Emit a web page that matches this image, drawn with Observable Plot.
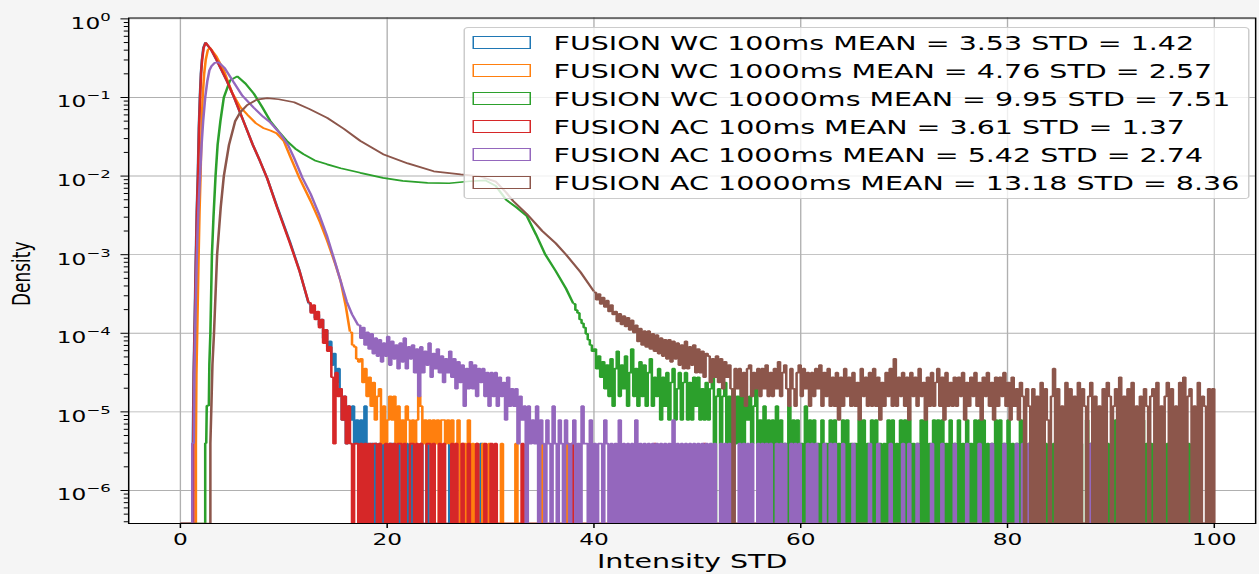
<!DOCTYPE html>
<html>
<head>
<meta charset="utf-8">
<script src="https://cdn.jsdelivr.net/npm/d3@7"></script>
<script src="https://cdn.jsdelivr.net/npm/@observablehq/plot@0.6"></script>
<style>
html,body{margin:0;padding:0;background:#f5f5f5;overflow:hidden;}
#wrap{position:relative;width:839px;height:574px;transform:scaleX(1.5);transform-origin:0 0;font-family:"DejaVu Sans",sans-serif;}
#legend{position:absolute;left:308.5px;top:27px;width:524px;height:172px;box-sizing:border-box;border:1px solid #cccccc;border-radius:3px;background:rgba(255,255,255,0.8);}
.row{position:absolute;left:5.5px;height:28px;display:flex;align-items:center;white-space:nowrap;font-size:19px;color:#000;font-family:"DejaVu Sans",sans-serif;}
.sw{display:inline-block;width:39px;height:13px;box-sizing:border-box;border:1.3px solid;margin-right:15px;}
</style>
</head>
<body>
<div id="wrap"><div id="chart"></div><div id="legend"></div></div>
<script>
// ---------------- data ----------------
const seriesNames = ["FUSION WC 100ms","FUSION WC 1000ms","FUSION WC 10000ms","FUSION AC 100ms","FUSION AC 1000ms","FUSION AC 10000ms"];
const seriesMeans = [3.53, 4.76, 9.95, 3.61, 5.42, 13.18];
const seriesStds  = [1.42, 2.57, 7.51, 1.37, 2.74, 8.36];
const seriesColors = ["#1f77b4","#ff7f0e","#2ca02c","#d62728","#9467bd","#8c564b"];

const xTicks = [0, 20, 40, 60, 80, 100];
const yTicks = [1e-6, 1e-5, 1e-4, 1e-3, 1e-2, 1e-1, 1];

const BIN = 0.2;        // width of a histogram bin in the sparse tails
const UNIT = 3.94e-6;   // density of a single count

// smooth body of each histogram (x, density)
const wc100X = [1.2,1.28,1.38,1.48,1.58,1.68,1.78,1.88,1.98,2.08,2.22,2.42,3.0,3.5,4.0,4.5,5.2,6.1,7.0,7.7,8.4,9.35,10.6,11.5,12.4];
const wc100D = [4e-6,3e-5,1.5e-4,8e-4,3.5e-3,0.01,0.04,0.1,0.2,0.3,0.43,0.5,0.4,0.3,0.22,0.162,0.1,0.05,0.025,0.0155,0.0093,0.0041,0.00145,6.4e-4,2.4e-4];
const wc100TailStart = 12.4;
const wc100Tail = [60,48,54,40,44, 32,38,22,28,17, 20,10,14,6,9, 5,2,4,1,3, 2,3,1,2,1, 2,1,3,1,0, 1,0,1,0,1, 0,1,0,0,1, 1,0,0,1,0, 0,0,1,0,0, 1,0,0,0,1, 0,0,1,0,0];
const wc100Sparse = [26.0, 29.0];

const wc1000X = [1.5,1.55,1.65,1.75,1.85,1.95,2.05,2.15,2.3,2.45,2.65,2.85,3.5,4.2,5.0,5.8,6.5,7.3,8.0,8.7,9.3,10.0,10.6,11.5,12.6,13.5,14.2,15.0,15.5,16.0,16.4];
const wc1000D = [4e-6,3e-5,1.5e-4,8e-4,3.5e-3,0.01,0.04,0.1,0.2,0.3,0.4,0.43,0.33,0.22,0.115,0.075,0.06,0.047,0.041,0.038,0.035,0.028,0.018,0.0095,0.0048,0.0026,0.0015,7.5e-4,4.6e-4,2.2e-4,1.05e-4];
const wc1000TailStart = 16.4;
const wc1000Tail = [26,18,17,12,11, 12,6,9,4,7, 3,6,2,4,5, 1,3,1,2,4, 2,4,1,3,1, 2,1,3,2,1, 2,1,2,4,3, 1,2,1,2,1, 2,1,2,0,2, 2,1,2,1,2, 0,1,2,0,1, 1,0,2,0,1, 0,1,0,0,1, 0,0,1,0,0, 0,0,0,1,0];
const wc1000Sparse = [32.4, 34.8, 37.4, 53.4, 56.0];

const wc10000X = [2.4,2.5,2.55,2.75,2.8,2.9,3.05,3.2,3.4,3.6,3.87,4.2,4.8,5.5,6.3,7.1,7.9,8.7,9.5,10.3,11.1,11.9,13.0,14.2,15.5,17.4,19.6,21.5,23.9,26.0,28.0,29.5,30.5,31.5,32.5,33.5,34.4,35.3,36.3,37.3,38.0];
const wc10000D = [4e-6,4e-6,1.2e-5,1.2e-5,4e-5,1e-4,1e-3,3e-3,0.01,0.025,0.05,0.1,0.165,0.186,0.15,0.112,0.076,0.05,0.037,0.028,0.0224,0.019,0.0158,0.0141,0.0126,0.011,0.0095,0.0087,0.0082,0.0081,0.0086,0.0088,0.0075,0.005,0.004,0.0031,0.0018,0.001,6.2e-4,3.7e-4,2.4e-4];
const wc10000TailStart = 38.0;
const wc10000Tail = [
  60,50,46,38,34, 30,25,21,18,15, 16,9,13,7,11, 5,10,4,12,3, 9,15,4,10,5,
  13,3,8,16,4, 9,3,11,4,10, 3,8,12,3,7, 4,9,2,7,3, 8,2,6,9,2,
  5,8,2,6,8, 2,6,2,7,3, 7,2,5,2,6, 2,5,7,0,4, 5,1,4,6,1,
  4,1,5,1,4, 1,5,1,4,2, 4,1,3,5,1, 2,0,3,0,2, 0,2,0,3,0,
  2,0,1,0,3, 0,2,0,2,0, 1,0,3,0,2, 0,2,0,1,0, 2,0,1,0,2,
  0,2,0,1,0, 2,0,2,0,1, 0,1,0,2,0, 2,0,1,0,2, 0,2,0,1,0,
  1,0,2,0,2, 0,1,0,2,0, 2,0,2,0,1, 0,1,0,2,0, 2,0,1,0,2,
  0,2,0,2,0, 1,0,2,0,1, 0,2,0,1,0, 2,0,1,0,2, 0,2,0,2,0,
  1,0,1,0,2, 0,2,0,1,0, 2,0,1,0,1, 0,2,0,1,0, 1,0,1,0,1,
  0,2,0,1,0, 1,0,1,0,0, 1,0,2,0,1, 0,1,0,1,0, 1,0,0,2,0,
  1,0,1,0,1, 0,1,0,1,0, 1,0,2,0,1, 0,1,0,0,1, 0,1,0,1,0,
  2,0,1,0,1, 0,1,0,1,0, 1,0,1,0,1, 0,1,0,1,0, 1,0,1,0,1,
  0,1,0,0,0];
const wc10000Sparse = [];

const ac100X = [1.25,1.3,1.4,1.5,1.6,1.7,1.8,1.9,2.0,2.1,2.25,2.45,3.0,3.5,4.0,4.5,5.2,6.1,7.0,7.7,8.4,9.35,10.6,11.5,12.4];
const ac100D = [4e-6,3e-5,1.5e-4,8e-4,3.5e-3,0.01,0.04,0.1,0.2,0.3,0.43,0.5,0.4,0.3,0.22,0.162,0.1,0.05,0.025,0.0155,0.0093,0.004,0.0014,6.3e-4,2.45e-4];
const ac100TailStart = 12.4;
const ac100Tail = [62,46,58,38,48, 30,38,19,28,15, 17,7,1,8,4, 5,2,4,1,3, 1,0,1,1,0, 1,0,1,0,1, 0,1,1,0,1, 0,0,1,0,1, 0,1,0,1,1, 0,1,0,0,1, 1,0,1,0,1, 0,0,1,1,0, 1,0,0,1,0, 1,0,0,0,1, 0,1,0,0,1, 0,0,1,0,0, 0,1,0,0,0, 1,0,0,1,0, 1,0,0,0,0];
const ac100Sparse = [33.0, 37.8, 45.9, 50.6];

const ac1000X = [1.15,1.3,1.35,1.45,1.55,1.65,1.75,1.9,2.05,2.2,2.4,2.6,2.8,3.0,3.3,3.7,4.3,5.1,6.0,7.1,8.0,8.7,9.7,10.4,11.0,11.8,12.6,13.4,14.2,14.9,15.5,16.1,16.6,17.2];
const ac1000D = [4e-6,4e-6,3e-5,1.5e-4,6e-4,1.8e-3,4e-3,0.01,0.025,0.05,0.1,0.16,0.22,0.25,0.275,0.28,0.235,0.16,0.105,0.074,0.057,0.048,0.034,0.025,0.017,0.0095,0.0059,0.0033,0.0017,8.5e-4,4.6e-4,2.5e-4,1.75e-4,1.26e-4];
const ac1000TailStart = 17.2;
const ac1000Tail = [
  32,22,30,18,26, 16,25,14,22,13, 21,11,19,13,23, 10,20,12,18,9, 19,11,22,9,17,
  12,18,8,16,4, 17,8,15,10,19, 7,14,9,16,8, 13,6,12,8,15, 7,12,5,11,6,
  10,3,9,5,11, 5,10,4,9,6, 9,4,8,3,8, 4,8,3,7,4, 6,2,7,3,5,
  3,5,1,4,2, 3,0,3,1,2, 1,3,0,2,1, 0,2,1,0,3, 1,0,2,1,0,
  2,1,0,1,2, 0,1,0,3,1, 1,0,2,0,1, 0,1,1,0,2, 1,0,1,0,1,
  0,2,0,1,0, 1,0,1,0,2, 0,1,0,1,0, 1,0,1,0,1, 0,1,0,1,0,
  1,0,2,0,1, 0,1,0,1,0, 1,0,1,0,1, 0,1,0,1,0, 1,0,1,0,0,
  1,0,1,0,1, 0,1,0,0,1, 0,1,0,1,0, 1,0,0,1,0, 1,0,1,0,1,
  0,0,1,0,1, 0,1,0,0,1, 0,1,0,1,0, 0,0,1,0,1, 0,1,0,0,0,
  1,0,0,1,0, 1,0,0,0,0];
const ac1000Sparse = [63.2, 64.0, 65.0, 66.6, 67.4, 68.6, 69.8, 70.4, 71.2, 72.6, 73.6, 74.8, 76.0, 77.2, 78.4, 79.6, 80.8, 81.4, 82.0, 83.4, 85.5, 88.0, 91.0, 92.6];

const ac10000X = [2.9,3.0,3.1,3.25,3.55,3.9,4.2,4.7,5.3,5.8,6.45,7.4,8.4,9.5,11.0,12.5,14.2,15.8,17.4,19.6,22.0,24.5,27.1,29.0,30.5,31.5,32.2,33.5,35.0,36.3,37.3,38.7,40.0];
const ac10000D = [4e-6,1.2e-5,4e-5,1e-4,1e-3,4e-3,0.01,0.025,0.05,0.065,0.08,0.094,0.098,0.095,0.087,0.071,0.055,0.04,0.028,0.019,0.0145,0.0115,0.0105,0.0099,0.0085,0.0062,0.0048,0.0033,0.002,0.0014,0.001,6e-4,3.4e-4];
const ac10000TailStart = 40.0;
const ac10000Tail = [
  84,68,80,60,72, 55,66,48,58,44, 48,36,45,33,42, 31,40,28,37,26, 32,20,29,18,27,
  17,27,16,25,15, 24,14,22,13,21, 12,21,11,20,12, 19,10,18,9,20, 9,17,10,18,8,
  16,8,15,7,14, 13,6,12,7,13, 6,12,5,11,7, 10,5,0,9,5, 9,4,8,3,9,
  10,4,8,5,9, 4,9,5,10,4, 8,4,9,5,11, 4,8,10,5,3, 9,5,3,8,10,
  4,9,5,8,3, 8,4,9,5,10, 3,8,4,9,3, 7,3,8,2,7, 3,9,4,7,3,
  8,3,6,2,9, 4,7,3,8,3, 9,3,7,2,6, 3,8,4,9,3, 12,3,7,4,8,
  3,7,2,8,4, 7,3,9,4,6, 2,7,3,8,3, 6,9,3,7,2, 8,3,6,3,7,
  3,7,4,8,2, 6,3,7,4,8, 3,6,2,7,4, 8,3,6,2,7, 3,7,4,8,3,
  6,2,7,3,5, 2,6,4,0,5, 3,0,5,0,4, 0,6,0,5,2, 0,4,9,0,5,
  0,3,0,6,0, 5,0,4,0,6, 0,5,3,0,4, 6,0,4,0,3, 0,5,0,6,4,
  0,3,5,0,7, 0,4,0,5,0, 6,0,3,0,4, 0,5,3,0,4, 5,0,6,0,3,
  0,4,6,0,5, 0,3,0,6,0, 7,0,4,5,0, 3,0,6,0,4, 3,0,5,0,5];
const ac10000Sparse = [];

// ---------------- build ----------------
const Y_MIN = 3.8e-7, Y_MAX = 1.026;
const FLOOR = Y_MIN; // empty bins fall to the bottom of the axes

function smoothPoints(X, D) {
  return [{x: 0, y: FLOOR}, {x: X[0], y: FLOOR}, ...X.map((x, i) => ({x, y: D[i]}))];
}
function tailPoints(start, counts, sparse) {
  const n = Math.round((100 - start) / BIN);
  const c = new Array(n).fill(0);
  counts.forEach((v, i) => { if (i < n) c[i] = v; });
  sparse.forEach(x => { const i = Math.floor((x - start) / BIN + 1e-6); if (i >= 0 && i < n) c[i] = Math.max(c[i], 1); });
  const pts = c.map((v, i) => ({x: start + i * BIN, y: v > 0 ? v * UNIT : FLOOR}));
  pts.push({x: start + n * BIN, y: FLOOR});
  return pts;
}

const series = [
  {X: wc100X, D: wc100D, s: wc100TailStart, t: wc100Tail, sp: wc100Sparse},
  {X: wc1000X, D: wc1000D, s: wc1000TailStart, t: wc1000Tail, sp: wc1000Sparse},
  {X: wc10000X, D: wc10000D, s: wc10000TailStart, t: wc10000Tail, sp: wc10000Sparse},
  {X: ac100X, D: ac100D, s: ac100TailStart, t: ac100Tail, sp: ac100Sparse},
  {X: ac1000X, D: ac1000D, s: ac1000TailStart, t: ac1000Tail, sp: ac1000Sparse},
  {X: ac10000X, D: ac10000D, s: ac10000TailStart, t: ac10000Tail, sp: ac10000Sparse}
];

const lineStyle = {strokeWidth: 1.7, strokeLinejoin: "miter", strokeLinecap: "butt", clip: true};
const seriesMarks = [];
series.forEach((s, i) => {
  seriesMarks.push(Plot.line(smoothPoints(s.X, s.D), {x: "x", y: "y", stroke: seriesColors[i], curve: "linear", ...lineStyle}));
  seriesMarks.push(Plot.line(tailPoints(s.s, s.t, s.sp), {x: "x", y: "y", stroke: seriesColors[i], curve: "step-after", ...lineStyle}));
});

const yMinor = [];
for (let k = -7; k <= 0; k++) for (let m = 2; m <= 9; m++) { const v = m * Math.pow(10, k); if (v > Y_MIN && v < Y_MAX) yMinor.push(v); }

const chart = Plot.plot({
  width: 839,
  height: 574,
  marginLeft: 85.3,
  marginRight: 2.4,
  marginTop: 17.5,
  marginBottom: 51,
  style: {fontFamily: "DejaVu Sans", fontSize: "15.5px", color: "#000", background: "transparent", overflow: "visible"},
  x: {domain: [-5, 104]},
  y: {type: "log", domain: [Y_MIN, Y_MAX]},
  marks: [
    Plot.frame({fill: "white"}),
    Plot.gridX(xTicks, {stroke: "#b0b0b0", strokeOpacity: 1, strokeWidth: 0.9}),
    Plot.gridY(yTicks, {stroke: "#b0b0b0", strokeOpacity: 1, strokeWidth: 0.9}),
    ...seriesMarks,
    Plot.frame({stroke: "#000", strokeWidth: 1}),
    Plot.axisX(xTicks, {tickSize: 5, tickPadding: 5.5, fontSize: 15.5, label: null, tickFormat: d => String(d)}),
    Plot.axisY(yTicks, {tickSize: 5, fill: "none", label: null}),
    Plot.axisY(yMinor, {tickSize: 2.8, fill: "none", label: null}),
    Plot.axisY(yTicks, {tickSize: 0, tickPadding: 12, dy: 5, fontSize: 15.5, label: null,
      tickFormat: d => "10^" + String(Math.round(Math.log10(d))).replace("-", "\u2212")}),
    Plot.text(["Intensity STD"], {frameAnchor: "bottom", dy: 44, fontSize: 19}),
    Plot.text(["Density"], {frameAnchor: "left", dx: -71, dy: 3, rotate: -90, textAnchor: "middle", fontSize: 17})
  ]
});

// mathtext-like superscripts for the log tick labels
const NS = "http://www.w3.org/2000/svg";
chart.querySelectorAll("text").forEach(t => {
  const m = /^10\^(.+)$/.exec(t.textContent);
  if (!m) return;
  t.textContent = "";
  const a = document.createElementNS(NS, "tspan");
  a.textContent = "10";
  const b = document.createElementNS(NS, "tspan");
  b.setAttribute("dy", "-8");
  b.setAttribute("font-size", "11px");
  b.textContent = m[1];
  t.append(a, b);
});
document.getElementById("chart").append(chart);

// legend
const legend = document.getElementById("legend");
seriesNames.forEach((name, i) => {
  const row = document.createElement("div");
  row.className = "row";
  row.style.top = (0.7 + 28 * i) + "px";
  const sw = document.createElement("span");
  sw.className = "sw";
  sw.style.borderColor = seriesColors[i];
  const lab = document.createElement("span");
  lab.textContent = `${name} MEAN = ${seriesMeans[i].toFixed(2)} STD = ${seriesStds[i].toFixed(2)}`;
  row.append(sw, lab);
  legend.append(row);
});
</script>
</body>
</html>
